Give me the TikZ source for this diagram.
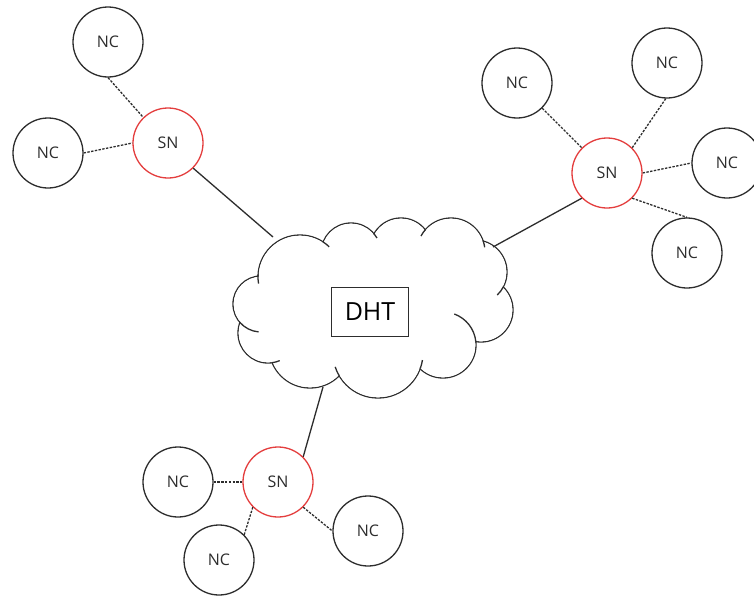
\documentclass[tikz,border=0pt]{standalone}
\usepackage{fontspec}
\setmainfont{Open Sans}
\definecolor{snred}{RGB}{228,62,62}
\definecolor{ink}{RGB}{45,45,45}
\begin{document}
\begin{tikzpicture}[x=1pt,y=1pt,
  every node/.style={text=ink},
  ncnode/.style={circle,draw=ink,line width=1.3pt,minimum size=70pt,inner sep=0pt,font=\fontsize{16}{19}\selectfont},
  snnode/.style={ncnode,draw=snred},
  boxnode/.style={draw=ink,line width=1.3pt,minimum width=77pt,minimum height=49pt,inner sep=0pt,font=\fontsize{25}{30}\selectfont,text=black},
  dashline/.style={draw=ink,line width=1.3pt,dash pattern=on 2.4pt off 1.4pt},
  solidline/.style={draw=ink,line width=1.3pt},
  cloudline/.style={draw=ink,line width=1.3pt}]
\clip (0,0) rectangle (754,-597);
\fill[white] (0,0) rectangle (754,-597);
% cloud: union of circles
\foreach \x/\y/\r in {300/277/42,351/253/30,401/249/31,451/252/34,475/272/32,481/310/32,443/345/33,378/353/45,310/347/41,268/333/30,261/304/28}
  {\draw[cloudline] (\x,-\y) circle[radius=\r pt];}
\foreach \x/\y/\r in {300/277/42,351/253/30,401/249/31,451/252/34,475/272/32,481/310/32,443/345/33,378/353/45,310/347/41,268/333/30,261/304/28}
  {\fill[white] (\x,-\y) circle[radius=\r pt-0.7pt];}
\fill[white] (300,-277) -- (351,-253) -- (401,-249) -- (451,-252) -- (475,-272) -- (481,-310) -- (443,-345) -- (378,-353) -- (310,-347) -- (268,-333) -- (261,-304) -- cycle;
% hooks
\foreach \x/\y/\r/\a/\b in {300/277/42/177/189,300/277/42/57/46,351/253/30/40/30,451/252/34/139/152,451/252/34/19/8,475/272/32/-28/-46,443/345/33/6/70,378/353/45/-20/-9,378/353/45/-150/-162,268/333/30/-82/-67,261/304/28/221/265}
  {\draw[cloudline] (\x,-\y) ++(\a:\r pt) arc[start angle=\a,end angle=\b,radius=\r pt];}
\node[boxnode] (dht) at (370,-312) {DHT};
% nodes
\node[ncnode] (nc1) at (108,-42) {NC};
\node[ncnode] (nc2) at (48,-153) {NC};
\node[snnode] (sn1) at (168,-143) {SN};
\node[ncnode] (nc3) at (517,-83) {NC};
\node[ncnode] (nc4) at (667,-63) {NC};
\node[ncnode] (nc5) at (727,-163) {NC};
\node[ncnode] (nc6) at (687,-253) {NC};
\node[snnode] (sn2) at (607,-173) {SN};
\node[snnode] (sn3) at (278,-482) {SN};
\node[ncnode] (nc7) at (178,-482) {NC};
\node[ncnode] (nc8) at (219,-560) {NC};
\node[ncnode] (nc9) at (368,-531) {NC};
\coordinate (cA) at (273,-237);
\coordinate (cB) at (493,-247);
\coordinate (cC) at (323,-387);
% connectors
\draw[dashline] (nc1.south) -- (sn1.134);
\draw[dashline] (nc2.east) -- (sn1.west);
\draw[dashline] (nc3.-45) -- (sn2.135);
\draw[dashline] (nc4.-92) -- (sn2.45);
\draw[dashline] (sn2.east) -- (nc5.west);
\draw[dashline] (sn2.-45) -- (nc6.north);
\draw[dashline] (nc7.east) -- (sn3.west);
\draw[dashline] (nc8.45) -- (sn3.-135);
\draw[dashline] (sn3.-45) -- (nc9.west);
\draw[solidline] (sn1.-45) -- (cA);
\draw[solidline] (sn2.-135) -- (cB);
\draw[solidline] (sn3.45) -- (cC);
\end{tikzpicture}
\end{document}
